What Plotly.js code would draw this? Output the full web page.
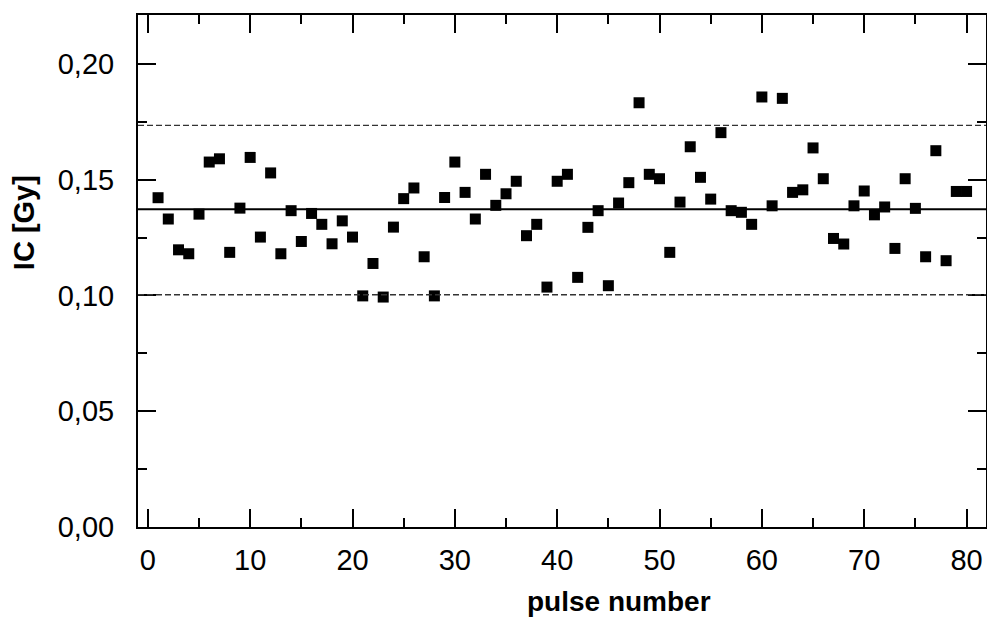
<!DOCTYPE html>
<html>
<head>
<meta charset="utf-8">
<script src="https://cdn.plot.ly/plotly-3.0.1.min.js"></script>
<style>
html,body{margin:0;padding:0;background:#fff;overflow:hidden;}
#chart{width:987px;height:618px;}
</style>
</head>
<body>
<div id="chart"></div>
<script>
// pulse numbers
const pulseNumber = [];
for (let i = 1; i <= 80; i++) pulseNumber.push(i);

// IC dose per pulse [Gy]
const icDose = [
  0.1422, 0.1330, 0.1197, 0.1180, 0.1351, 0.1576, 0.1590, 0.1186, 0.1377, 0.1596,
  0.1252, 0.1529, 0.1180, 0.1366, 0.1233, 0.1354, 0.1307, 0.1223, 0.1322, 0.1252,
  0.0998, 0.1138, 0.0993, 0.1295, 0.1418, 0.1464, 0.1167, 0.0998, 0.1423, 0.1576,
  0.1445, 0.1330, 0.1523, 0.1389, 0.1439, 0.1493, 0.1258, 0.1307, 0.1036, 0.1493,
  0.1523, 0.1078, 0.1294, 0.1366, 0.1042, 0.1399, 0.1487, 0.1832, 0.1523, 0.1504,
  0.1186, 0.1403, 0.1642, 0.1510, 0.1416, 0.1703, 0.1366, 0.1359, 0.1307, 0.1857,
  0.1387, 0.1851, 0.1445, 0.1456, 0.1637, 0.1504, 0.1246, 0.1222, 0.1387, 0.1451,
  0.1348, 0.1382, 0.1203, 0.1504, 0.1376, 0.1167, 0.1625, 0.1150, 0.1449, 0.1449
];

// reference levels
const meanValue = 0.1372;
const upperLimit = 0.1734;
const lowerLimit = 0.1003;

const xTickVals = [0, 10, 20, 30, 40, 50, 60, 70, 80];
const yTickVals = [0.00, 0.05, 0.10, 0.15, 0.20];

const FONT = 'Liberation Sans, Arial, Helvetica, sans-serif';

const trace = {
  type: 'scatter',
  mode: 'markers',
  x: pulseNumber,
  y: icDose,
  marker: {symbol: 'square', size: 11, color: '#000', line: {width: 0}},
  hoverinfo: 'x+y'
};

const axisCommon = {
  showgrid: false,
  zeroline: false,
  showline: true,
  linecolor: '#000',
  linewidth: 2,
  mirror: 'ticks',
  ticks: 'inside',
  ticklen: 18,
  tickwidth: 2,
  tickcolor: '#000',
  tickfont: {family: FONT, size: 29, color: '#000'}
};

const layout = {
  width: 987,
  height: 618,
  margin: {l: 138, r: 1, t: 15, b: 91},
  paper_bgcolor: '#fff',
  plot_bgcolor: '#fff',
  separators: ',.',
  showlegend: false,
  xaxis: Object.assign({}, axisCommon, {
    range: [-0.96, 81.9],
    tickmode: 'array',
    tickvals: xTickVals,
    ticklabelstandoff: 6,
    minor: {dtick: 5, tick0: 0, ticks: 'inside', ticklen: 9, tickwidth: 2, tickcolor: '#000'}
  }),
  yaxis: Object.assign({}, axisCommon, {
    range: [0, 0.2211],
    tickmode: 'array',
    tickvals: yTickVals,
    tickformat: '.2f',
    ticklabelstandoff: 16,
    minor: {dtick: 0.025, tick0: 0, ticks: 'inside', ticklen: 9, tickwidth: 2, tickcolor: '#000'}
  }),
  shapes: [
    {type: 'line', xref: 'paper', yref: 'y', x0: 0, x1: 1, y0: meanValue, y1: meanValue,
     line: {color: '#000', width: 2}},
    {type: 'line', xref: 'paper', yref: 'y', x0: 0, x1: 1, y0: upperLimit, y1: upperLimit,
     line: {color: '#333', width: 1.3, dash: '6px,3px'}},
    {type: 'line', xref: 'paper', yref: 'y', x0: 0, x1: 1, y0: lowerLimit, y1: lowerLimit,
     line: {color: '#333', width: 1.3, dash: '6px,3px'}}
  ],
  annotations: [
    {text: '<b>pulse number</b>', xref: 'paper', yref: 'paper', x: 0.567, y: -0.146,
     xanchor: 'center', yanchor: 'middle', showarrow: false,
     font: {family: FONT, size: 28, color: '#000'}},
    {text: '<b>IC [Gy]</b>', xref: 'paper', yref: 'paper', x: -0.1335, y: 0.595,
     xanchor: 'center', yanchor: 'middle', showarrow: false, textangle: -90,
     font: {family: FONT, size: 29, color: '#000'}}
  ]
};

Plotly.newPlot('chart', [trace], layout, {displayModeBar: false, staticPlot: true});
</script>
</body>
</html>
